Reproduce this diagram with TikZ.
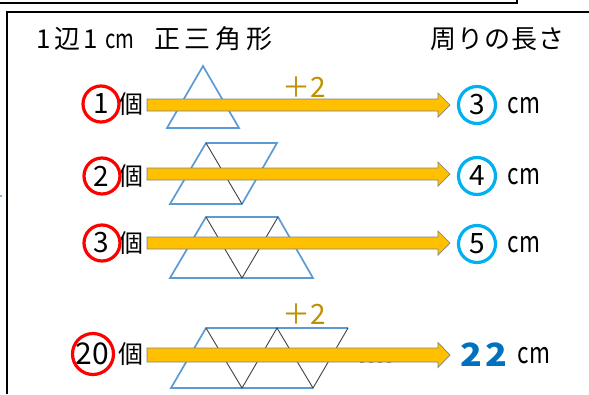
\documentclass[tikz,border=0pt]{standalone}
\usepackage{fontspec}
\usepackage{graphicx}
\setmainfont{Noto Sans CJK JP}
\definecolor{triblue}{HTML}{5B9BD5}
\definecolor{arrowyellow}{HTML}{FFC000}
\definecolor{ringblue}{HTML}{00B0F0}
\definecolor{numblue}{HTML}{0070C0}
\definecolor{goldtxt}{HTML}{BF9000}
\newcommand\fs[1]{\fontsize{#1}{#1}\selectfont}
\newcommand\cmunit{\scalebox{0.78}[1]{cm}}
\newcommand\myarrow[3]{%
  \draw[yarrow] (147,{#1-#2}) -- (438,{#1-#2}) -- (438,{#1-#3}) -- (450,#1)
    -- (438,{#1+#3}) -- (438,{#1+#2}) -- (147,{#1+#2}) -- cycle;}
\begin{document}
\begin{tikzpicture}[x=1pt,y=-1pt,
  tri/.style={draw=triblue, line width=1.7pt, line join=miter},
  innerline/.style={draw=black!75, line width=0.9pt},
  yarrow/.style={fill=arrowyellow, draw=black!50, line width=0.7pt},
  redring/.style={draw=red, line width=3.2pt, circle, minimum size=36pt, inner sep=0pt},
  bluering/.style={draw=ringblue, line width=3.2pt, circle, minimum size=37pt, inner sep=0pt},
  txt/.style={inner sep=0pt, text=black},
  numtxt/.style={txt, font=\fs{28}},
  kotxt/.style={txt, font=\fs{25}},
  unittxt/.style={txt, font=\fs{29}},
  plustxt/.style={txt, text=goldtxt, font=\fs{28}},
  frameline/.style={draw=black, line width=2pt}]
\useasboundingbox (0,0) rectangle (589,394);
% frames
\draw[frameline] (0,2.5) -- (517,2.5) -- (517,0);
\draw[frameline] (6.5,394) -- (6.5,11.5) -- (589,11.5);
\fill[triblue] (1,196) circle (1.2);
% titles
\node[txt, anchor=base west, font=\fs{26}] (title1) at (36,48) {1\hspace{4pt}辺\hspace{3pt}1\hspace{7pt}\cmunit};
\node[txt, anchor=base, font=\fs{26}] (title2) at (213.5,48) {正\hspace{5pt}三\hspace{5pt}角\hspace{5pt}形};
\node[txt, anchor=base, font=\fs{26}] (title3) at (497.5,48) {周\hspace{1pt}り\hspace{1pt}の\hspace{1pt}長\hspace{1pt}さ};
% triangles
\draw[tri] (167,128) -- (203,66) -- (239,128) -- cycle;
\draw[tri] (170,204) -- (206,143) -- (277,143) -- (242,204) -- cycle;
\draw[innerline] (206,143) -- (242,204);
\draw[tri] (170,278) -- (206,217) -- (278,217) -- (313,278) -- cycle;
\draw[innerline] (206,217) -- (242,278) -- (278,217);
\draw[tri] (313,388) -- (171,388) -- (206,328) -- (348,328);
\draw[innerline] (206,328) -- (242,388) -- (277,328) -- (313,388) -- (348,328);
\draw[draw=black!45, line width=3pt, dash pattern=on 4pt off 5pt] (360,361) -- (396,361);
% arrows
\myarrow{105}{6}{12}
\myarrow{174}{6}{12}
\myarrow{243}{6}{12}
\myarrow{355}{7}{12.5}
% plus labels
\node[plustxt] (plus1) at (304,87) {＋2};
\node[plustxt] (plus4) at (304,314) {＋2};
% left numbers
\node[numtxt] (n1) at (101,104) {1};
\node[kotxt] (k1) at (131,104) {個};
\node[redring] (r1) at (101,104) {};
\node[numtxt] (n2) at (101,176) {2};
\node[kotxt] (k2) at (131,176) {個};
\node[redring] (r2) at (102,176) {};
\node[numtxt] (n3) at (101,243) {3};
\node[kotxt] (k3) at (131,243) {個};
\node[redring] (r3) at (102,243) {};
\node[numtxt, font=\fs{30}] (n4) at (92,354) {20};
\node[kotxt] (k4) at (131,354) {個};
\node[redring, minimum size=41pt] (r4) at (93,354) {};
% right results
\node[numtxt] (m1) at (477,105) {3};
\node[bluering] (b1) at (477,105) {};
\node[unittxt] (u1) at (524,106) {\cmunit};
\node[numtxt] (m2) at (477,176) {4};
\node[bluering] (b2) at (477,176) {};
\node[unittxt] (u2) at (524,177) {\cmunit};
\node[numtxt] (m3) at (477,244) {5};
\node[bluering] (b3) at (477,244) {};
\node[unittxt] (u3) at (524,245) {\cmunit};
\node[txt, text=numblue, font=\fs{32}\bfseries] (m4) at (484,355) {\scalebox{1.12}[1]{2\hspace{3pt}2}};
\node[unittxt] (u4) at (534,356) {\cmunit};
\end{tikzpicture}
\end{document}
